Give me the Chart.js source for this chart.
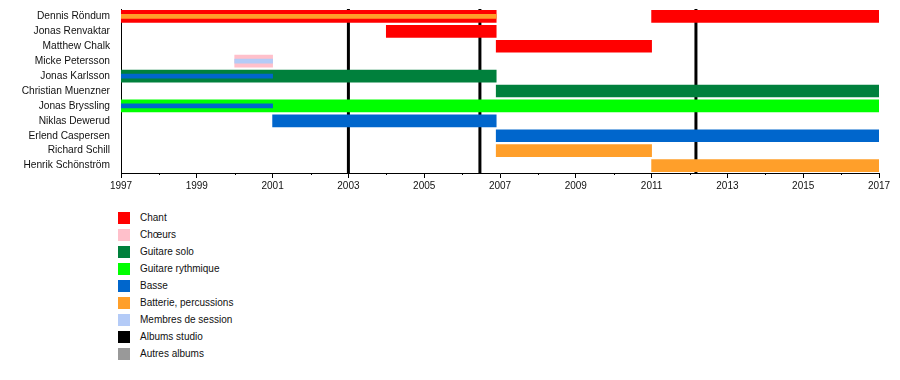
<!DOCTYPE html>
<html>
<head>
<meta charset="utf-8">
<script src="https://cdn.jsdelivr.net/npm/chart.js@4"></script>
<style>
html,body{margin:0;padding:0;background:#fff;}
#wrap{position:relative;width:900px;height:380px;font-family:"Liberation Sans",Arial,sans-serif;}
#legend{position:absolute;left:118px;top:212px;}
.item{position:relative;height:17px;font-size:10px;color:#111;}
.item span.box{position:absolute;left:0;top:0;width:12px;height:12px;}
.item span.txt{position:absolute;left:22px;top:0;line-height:12px;white-space:nowrap;}
</style>
</head>
<body>
<div id="wrap">
<canvas id="timeline" width="900" height="200"></canvas>
<div id="legend"></div>
</div>
<script>
// Band members timeline

const members = ["Dennis Röndum","Jonas Renvaktar","Matthew Chalk","Micke Petersson","Jonas Karlsson",
"Christian Muenzner","Jonas Bryssling","Niklas Dewerud","Erlend Caspersen","Richard Schill","Henrik Schönström"];

// [member, from, to]
const chant = [["Dennis Röndum",1997,2006.9],["Dennis Röndum",2011,2017],["Jonas Renvaktar",2004,2006.9],["Matthew Chalk",2006.9,2011]];
const choeurs = [["Micke Petersson",2000,2001]];
const guitareSolo = [["Jonas Karlsson",1997,2006.9],["Christian Muenzner",2006.9,2017]];
const guitareRythmique = [["Jonas Bryssling",1997,2017]];
const basse = [["Niklas Dewerud",2001,2006.9],["Erlend Caspersen",2006.9,2017]];
const batterie = [["Richard Schill",2006.9,2011],["Henrik Schönström",2011,2017]];

// thin bars inside the main ones
const batterieExtra = [["Dennis Röndum",1997,2006.9]];
const basseExtra = [["Jonas Karlsson",1997,2001],["Jonas Bryssling",1997,2001]];
const session = [["Micke Petersson",2000,2001]];

const albumsStudio = [2003,2006.47,2012.17];

const legendLabels = ["Chant","Chœurs","Guitare solo","Guitare rythmique","Basse","Batterie, percussions","Membres de session","Albums studio","Autres albums"];
const legendColors = ["#ff0000","#ffc0cb","#00803c","#00ff00","#0066cc","#ff9f2a","#b4cbf7","#000000","#999999"];

function toData(rows){
  return rows.map(r => ({y:r[0], x:[r[1],r[2]]}));
}

function bar(label, rows, color, thick, order){
  return {
    label:label,
    data:toData(rows),
    backgroundColor:color,
    borderWidth:0,
    borderSkipped:false,
    barThickness:thick,
    grouped:false,
    order:order
  };
}

const albumLines = {
  id:'albumLines',
  beforeDatasetsDraw(chart){
    const ctx = chart.ctx, x = chart.scales.x, area = chart.chartArea;
    ctx.save();
    ctx.strokeStyle = "#000";
    ctx.lineWidth = 3;
    albumsStudio.forEach(v => {
      const px = x.getPixelForValue(v);
      ctx.beginPath();
      ctx.moveTo(px, area.top);
      ctx.lineTo(px, area.bottom);
      ctx.stroke();
    });
    ctx.restore();
  },
  afterDraw(chart){
    // short minor ticks on even years
    const ctx = chart.ctx, x = chart.scales.x, area = chart.chartArea;
    ctx.save();
    ctx.strokeStyle = "#000";
    ctx.lineWidth = 1;
    for (let yr = 1998; yr < 2017; yr += 2){
      const px = Math.round(x.getPixelForValue(yr)) + 0.5;
      ctx.beginPath();
      ctx.moveTo(px, area.bottom);
      ctx.lineTo(px, area.bottom + 2);
      ctx.stroke();
    }
    ctx.restore();
  }
};

const font = {family:"'Liberation Sans', Arial, sans-serif", size:10};

new Chart(document.getElementById('timeline'),{
  type:'bar',
  data:{
    labels:members,
    datasets:[
      bar("Batterie, percussions", batterieExtra, "#ff9f2a", 4, 0),
      bar("Basse", basseExtra, "#0066cc", 4, 0),
      bar("Membres de session", session, "#b4cbf7", 4, 0),
      bar("Chant", chant, "#ff0000", 12, 1),
      bar("Chœurs", choeurs, "#ffc0cb", 12, 1),
      bar("Guitare solo", guitareSolo, "#00803c", 12, 1),
      bar("Guitare rythmique", guitareRythmique, "#00ff00", 12, 1),
      bar("Basse", basse, "#0066cc", 12, 1),
      bar("Batterie, percussions", batterie, "#ff9f2a", 12, 1)
    ]
  },
  options:{
    indexAxis:'y',
    responsive:false,
    animation:false,
    layout:{padding:{top:9,right:21,left:0,bottom:0}},
    plugins:{
      legend:{display:false},
      tooltip:{enabled:false}
    },
    scales:{
      x:{
        type:'linear',
        min:1997,
        max:2017,
        afterFit(s){ s.height = 27; s.paddingLeft = 0; s.paddingRight = 0; },
        grid:{display:true, drawOnChartArea:false, tickLength:5,
          tickColor:c => (c.tick && c.tick.value % 2 === 1) ? "#000" : "rgba(0,0,0,0)"},
        border:{display:true, color:"#000", width:1},
        ticks:{
          stepSize:1,
          autoSkip:false,
          maxRotation:0,
          padding:2,
          color:"#111",
          font:font,
          callback:v => (v % 2 === 1) ? String(v) : ""
        }
      },
      y:{
        type:'category',
        afterFit(s){ s.width = 121; s.paddingTop = 0; s.paddingBottom = 0; },
        grid:{display:false, drawTicks:false},
        border:{display:true, color:"#000", width:1},
        ticks:{color:"#111", font:{family:font.family, size:10.2}, padding:11, autoSkip:false}
      }
    }
  },
  plugins:[albumLines]
});

// legend below the chart
const legend = document.getElementById('legend');
legendLabels.forEach((l, i) => {
  const d = document.createElement('div');
  d.className = 'item';
  d.innerHTML = '<span class="box" style="background:' + legendColors[i] + '"></span><span class="txt"></span>';
  d.querySelector('.txt').textContent = l;
  legend.appendChild(d);
});
</script>
</body>
</html>
